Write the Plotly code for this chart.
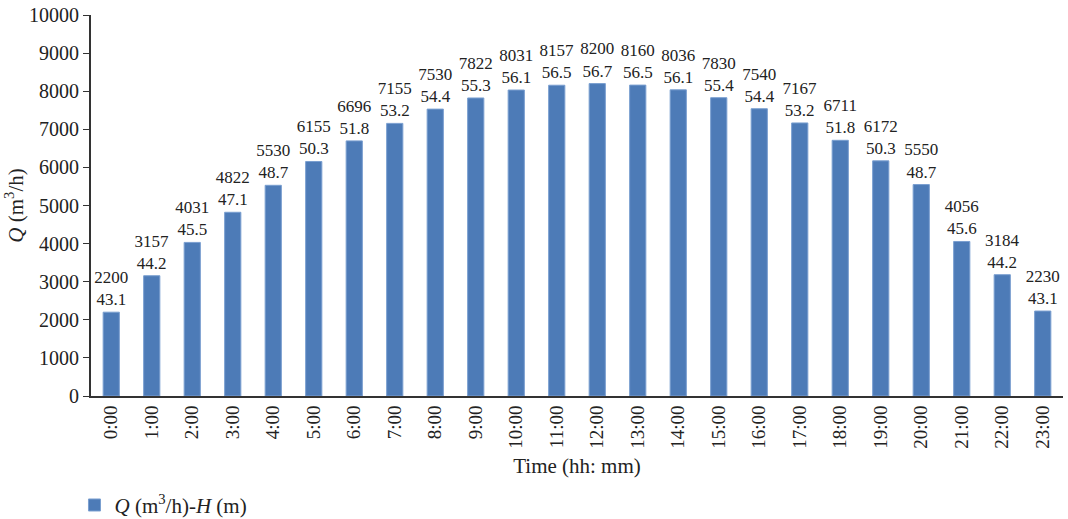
import plotly.graph_objects as go

hours = [f"{h}:00" for h in range(24)]
flow_q = [2200, 3157, 4031, 4822, 5530, 6155, 6696, 7155, 7530, 7822, 8031, 8157,
          8200, 8160, 8036, 7830, 7540, 7167, 6711, 6172, 5550, 4056, 3184, 2230]
head_h = ["43.1", "44.2", "45.5", "47.1", "48.7", "50.3", "51.8", "53.2", "54.4", "55.3", "56.1", "56.5",
          "56.7", "56.5", "56.1", "55.4", "54.4", "53.2", "51.8", "50.3", "48.7", "45.6", "44.2", "43.1"]
y_ticks = list(range(0, 10001, 1000))

FONT = "Liberation Serif"
labels = [f"{q}<br>{h}" for q, h in zip(flow_q, head_h)]

fig = go.Figure(go.Bar(
    x=hours, y=flow_q, text=labels, textposition="outside", cliponaxis=False,
    constraintext="none",
    textfont=dict(family=FONT, size=17, color="#222222"),
    marker=dict(color="#4d7bb7", line=dict(color="#7a9fd0", width=1)),
    width=0.4,
    name="<i>Q</i> (m<sup>3</sup>/h)-<i>H</i> (m)",
    showlegend=True,
))

fig.update_layout(
    width=1068, height=519,
    margin=dict(l=91, r=5, t=15, b=123, autoexpand=False),
    plot_bgcolor="white", paper_bgcolor="white",
    font=dict(family=FONT, size=17, color="#222222"),
    xaxis=dict(
        type="category", showline=True, linecolor="#333", linewidth=2,
        tickangle=-90, ticks="", tickfont=dict(family=FONT, size=19), automargin=False,
        title=dict(text="Time (hh: mm)", font=dict(family=FONT, size=21), standoff=10),
    ),
    yaxis=dict(
        range=[0, 10000], tickvals=y_ticks, ticktext=[str(v) for v in y_ticks],
        showline=True, linecolor="#333", linewidth=2, automargin=False,
        ticks="outside", ticklen=6, tickcolor="#333", showgrid=False, zeroline=False,
        tickfont=dict(family=FONT, size=20),
        title=dict(text="<i>Q</i> (m<sup>3</sup>/h)", font=dict(family=FONT, size=21), standoff=0),
    ),
    legend=dict(orientation="h", x=-0.017, xanchor="left", y=-0.287, yanchor="middle",
                font=dict(family=FONT, size=21)),
)

fig.write_html("out.html", config={"displayModeBar": False},
               post_script="document.body.style.margin='0px';")
